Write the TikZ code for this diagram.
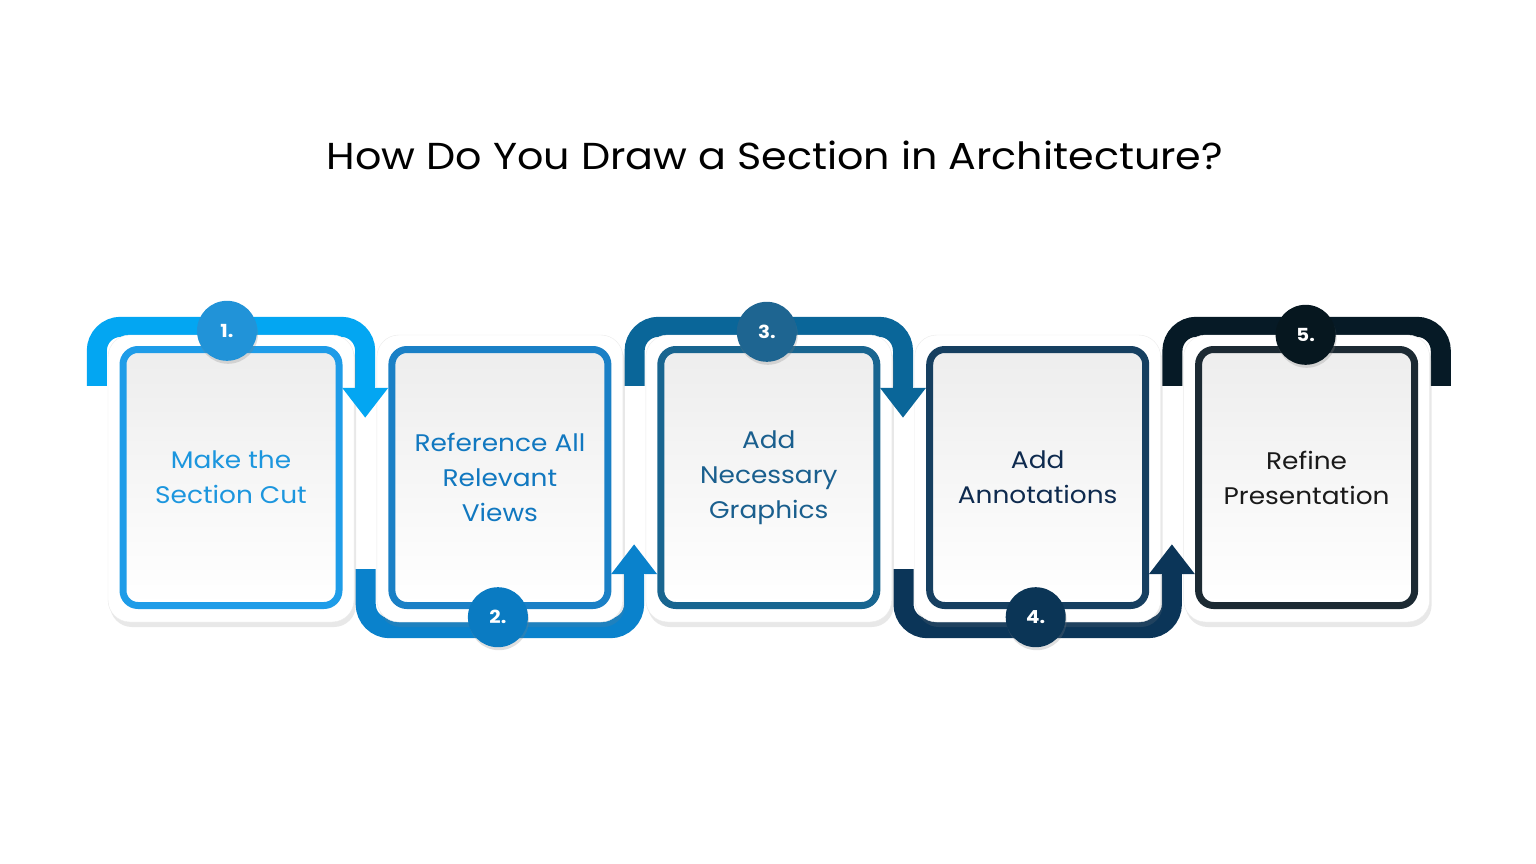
\documentclass[tikz,border=0pt]{standalone}
\usepackage{fontspec}
\setmainfont{Poppins}[FakeStretch=1.1]
\usetikzlibrary{positioning,calc,arrows.meta,backgrounds,shadows}
\definecolor{bandA}{HTML}{03A6F2}
\definecolor{bandB}{HTML}{0A82CC}
\definecolor{bandC}{HTML}{0A6699}
\definecolor{bandD}{HTML}{0B3558}
\definecolor{bandE}{HTML}{061A26}
\definecolor{frameA}{HTML}{1E9CE8}
\definecolor{frameB}{HTML}{1A80C6}
\definecolor{frameC}{HTML}{186590}
\definecolor{frameD}{HTML}{163F60}
\definecolor{frameE}{HTML}{1C2A33}
\definecolor{numA}{HTML}{2193D8}
\definecolor{numB}{HTML}{0A7BC2}
\definecolor{numC}{HTML}{1E6591}
\definecolor{numD}{HTML}{0B3556}
\definecolor{numE}{HTML}{06171F}
\definecolor{txtA}{HTML}{1C96DE}
\definecolor{txtB}{HTML}{1178C0}
\definecolor{txtC}{HTML}{1A5F8E}
\definecolor{txtD}{HTML}{0E2A4E}
\definecolor{txtE}{HTML}{1A1A1A}

\begin{document}
\begin{tikzpicture}[x=1pt,y=-1pt,
   outer/.style={draw=black!8,fill=white,rounded corners=22pt,minimum width=246pt,minimum height=287pt,inner sep=0pt,
     drop shadow={shadow xshift=2pt,shadow yshift=-5pt,opacity=0.18}},
   frame/.style={draw=#1,line width=7pt,rounded corners=15pt,minimum width=216pt,minimum height=256pt,
     top color=black!7,bottom color=white,align=center,font=\fontsize{24}{35}\selectfont},
   band/.style={draw=#1,line width=20pt,rounded corners=24pt},
   num/.style={circle,fill=#1,minimum size=60pt,inner sep=0pt,text=white,font=\bfseries\fontsize{18}{18}\selectfont,
     drop shadow={shadow xshift=1pt,shadow yshift=-3pt,opacity=0.25}},
   tip/.style={-{Triangle[width=44pt,length=30pt]}},
   node distance=22.5pt]
	\useasboundingbox (0,0) rectangle (1536,864);
	\node[font=\fontsize{37.5}{38}\selectfont] (title) at (775,155) {How Do You Draw a Section in Architecture?};
	% cards
	\node[outer] (card1) at (231,478.5) {};
	\node[outer,right=of card1] (card2) {};
	\node[outer,right=of card2] (card3) {};
	\node[outer,right=of card3] (card4) {};
	\node[outer,right=of card4] (card5) {};
	\node[frame=frameA,text=txtA] (step1) at ([yshift=1pt]card1.center) {Make the\\Section Cut};
	\node[frame=frameB,text=txtB] (step2) at ([yshift=1pt]card2.center) {Reference All\\Relevant\\Views};
	\node[frame=frameC,text=txtC] (step3) at ([yshift=1pt]card3.center) {Add\\Necessary\\Graphics};
	\node[frame=frameD,text=txtD] (step4) at ([yshift=1pt]card4.center) {Add\\Annotations};
	\node[frame=frameE,text=txtE] (step5) at ([yshift=1pt]card5.center) {Refine\\Presentation};
	% bands behind the cards
	\begin{pgfonlayer}{background}
	\fill[white] (0,0) rectangle (1536,864);
	\draw[band=bandA] ($(card1.north west)+(-11,51)$) |- ($(card1.north)+(0,-8)$) -| ($(card1.north east)+(11,52)$);
	\draw[band=bandB] ($(card2.south west)+(-11,-53)$) |- ($(card2.south)+(0,6)$) -| ($(card2.south east)+(11,-47)$);
	\draw[band=bandC] ($(card3.north west)+(-11,51)$) |- ($(card3.north)+(0,-8)$) -| ($(card3.north east)+(11,52)$);
	\draw[band=bandD] ($(card4.south west)+(-11,-53)$) |- ($(card4.south)+(0,6)$) -| ($(card4.south east)+(11,-47)$);
	\draw[band=bandE] ($(card5.north west)+(-11,51)$) |- ($(card5.north)+(0,-8)$) -| ($(card5.north east)+(11,51)$);
	\end{pgfonlayer}
	% arrow heads
	\draw[band=bandA,tip] ($(card1.north east)+(11,51)$) -- ++(0,32);
	\draw[band=bandB,tip] ($(card2.south east)+(11,-46)$) -- ++(0,-32);
	\draw[band=bandC,tip] ($(card3.north east)+(11,51)$) -- ++(0,32);
	\draw[band=bandD,tip] ($(card4.south east)+(11,-46)$) -- ++(0,-32);
	% numbers
	\node[num=numA] (n1) at ([xshift=-4pt,yshift=4pt]card1.north) {1.};
	\node[num=numB] (n2) at ([xshift=-2pt,yshift=5pt]card2.south) {2.};
	\node[num=numC] (n3) at ([xshift=-2pt,yshift=3pt]card3.north) {3.};
	\node[num=numD] (n4) at ([xshift=-2pt,yshift=5pt]card4.south) {4.};
	\node[num=numE] (n5) at ([xshift=-1pt,yshift=0pt]card5.north) {5.};
\end{tikzpicture}
\end{document}
